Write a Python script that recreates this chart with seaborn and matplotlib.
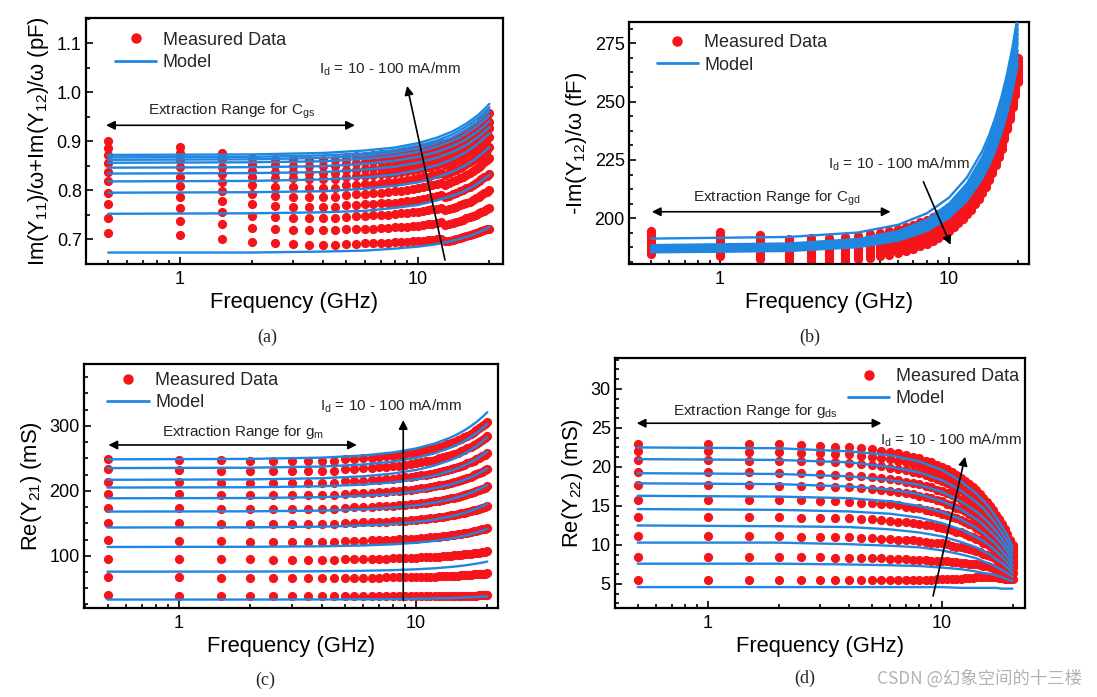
import numpy as np
import pandas as pd
import matplotlib
matplotlib.use("Agg")
import matplotlib.pyplot as plt
import seaborn as sns
from matplotlib.lines import Line2D
from matplotlib.ticker import FixedLocator, FixedFormatter, LogLocator, NullFormatter, MultipleLocator, FormatStrFormatter

# ---------------- data ----------------
freq_meas = [0.5, 1.0, 1.5, 2.0, 2.5, 3.0, 3.5, 4.0, 4.5, 5.0, 5.5, 6.0, 6.5, 7.0, 7.5, 8.0, 8.5, 9.0, 9.5, 10.0,
             10.5, 11.0, 11.5, 12.0, 12.5, 13.0, 13.5, 14.0, 14.5, 15.0, 15.5, 16.0, 16.5, 17.0, 17.5, 18.0, 18.5, 19.0, 19.5, 20.0]
freq_model = [0.5, 2, 4, 6, 8, 10, 12, 14, 15, 16, 17, 18, 19, 20]

# (a) Im(Y11)/w + Im(Y12)/w  (pF)
a_meas = [
    [.900,.888,.876,.865,.863,.862,.862,.862,.862,.867,.869,.870,.871,.873,.874,.876,.878,.880,.882,.884,.886,.889,.891,.894,.897,.894,.897,.901,.904,.909,.913,.917,.921,.927,.931,.936,.941,.947,.952,.957],
    [.886,.875,.863,.852,.851,.850,.850,.850,.850,.855,.856,.857,.859,.860,.861,.863,.865,.867,.869,.871,.873,.875,.877,.880,.883,.879,.882,.886,.889,.894,.897,.902,.906,.910,.914,.920,.924,.930,.934,.939],
    [.871,.861,.848,.840,.838,.837,.836,.836,.836,.841,.842,.843,.845,.846,.848,.849,.851,.853,.855,.857,.859,.861,.864,.866,.869,.866,.869,.873,.876,.880,.884,.888,.892,.897,.901,.906,.911,.916,.921,.926],
    [.856,.848,.834,.828,.825,.824,.823,.823,.823,.828,.829,.830,.831,.833,.834,.836,.837,.839,.841,.843,.845,.847,.850,.852,.855,.851,.854,.858,.861,.865,.869,.873,.877,.881,.885,.890,.894,.900,.904,.909],
    [.838,.827,.817,.810,.807,.806,.805,.805,.805,.810,.811,.812,.813,.814,.816,.817,.819,.820,.822,.824,.826,.828,.831,.833,.835,.832,.835,.839,.841,.846,.849,.853,.857,.861,.865,.870,.874,.879,.883,.888],
    [.818,.809,.799,.792,.789,.787,.786,.786,.786,.791,.792,.793,.794,.795,.796,.798,.799,.801,.802,.804,.806,.808,.810,.813,.815,.811,.814,.818,.820,.824,.827,.832,.835,.839,.843,.848,.852,.857,.861,.865],
    [.795,.786,.778,.771,.768,.766,.766,.765,.765,.769,.770,.771,.772,.773,.774,.775,.777,.778,.779,.781,.783,.784,.786,.788,.790,.786,.789,.792,.794,.798,.801,.804,.807,.811,.815,.819,.822,.827,.830,.834],
    [.771,.764,.756,.747,.745,.744,.743,.743,.743,.746,.747,.748,.749,.749,.750,.751,.753,.754,.755,.756,.757,.759,.761,.762,.764,.760,.762,.764,.766,.770,.772,.775,.777,.781,.784,.787,.790,.794,.797,.800],
    [.744,.737,.731,.723,.720,.719,.718,.718,.718,.721,.721,.722,.722,.723,.724,.725,.725,.726,.727,.728,.730,.731,.732,.733,.735,.730,.731,.734,.735,.738,.740,.743,.745,.748,.750,.753,.755,.758,.761,.763],
    [.713,.708,.700,.695,.692,.690,.689,.689,.689,.691,.691,.692,.692,.693,.693,.694,.694,.695,.696,.697,.697,.698,.699,.700,.701,.696,.697,.699,.701,.703,.704,.706,.708,.710,.712,.714,.716,.719,.720,.722],
]
a_model = [
    [.872,.873,.876,.881,.887,.896,.907,.920,.928,.936,.945,.954,.965,.976],
    [.867,.868,.871,.875,.882,.891,.901,.914,.922,.930,.939,.948,.958,.969],
    [.862,.863,.866,.870,.877,.885,.896,.908,.916,.924,.932,.941,.951,.962],
    [.856,.857,.859,.864,.870,.878,.889,.901,.908,.916,.924,.933,.943,.953],
    [.846,.847,.849,.854,.860,.868,.878,.890,.897,.904,.913,.921,.931,.941],
    [.834,.835,.837,.842,.848,.856,.866,.878,.885,.892,.901,.909,.919,.929],
    [.818,.819,.822,.826,.832,.841,.851,.863,.871,.878,.887,.896,.906,.916],
    [.795,.796,.798,.803,.809,.816,.826,.838,.845,.852,.860,.869,.878,.888],
    [.752,.753,.755,.758,.764,.770,.779,.789,.794,.801,.807,.815,.823,.831],
    [.673,.673,.675,.677,.681,.685,.690,.697,.701,.705,.709,.714,.719,.725],
]

# (b) -Im(Y12)/w  (fF)
b_meas = [
    [184.5,184.0,182.5,181.0,181.2,181.5,181.9,182.4,183.0,183.7,184.4,185.1,186.0,187.0,188.0,189.1,190.4,191.6,193.0,194.6,196.1,197.9,199.7,201.7,203.7,206.0,208.3,210.9,213.5,216.4,219.5,222.7,226.2,229.9,233.9,238.1,242.6,247.5,252.7,258.3],
    [185.6,185.1,183.6,182.1,182.3,182.6,183.0,183.5,184.1,184.8,185.5,186.2,187.1,188.1,189.1,190.2,191.5,192.7,194.1,195.7,197.2,199.0,200.8,202.8,204.8,207.1,209.4,212.0,214.6,217.5,220.6,223.8,227.3,231.0,235.0,239.2,243.7,248.6,253.8,259.4],
    [186.7,186.2,184.8,183.3,183.5,183.8,184.2,184.7,185.3,186.0,186.7,187.4,188.3,189.3,190.3,191.4,192.7,193.9,195.3,196.9,198.4,200.2,202.0,204.0,206.0,208.3,210.6,213.2,215.8,218.7,221.8,225.0,228.5,232.2,236.2,240.4,244.9,249.8,255.0,260.6],
    [187.8,187.3,185.9,184.4,184.6,184.9,185.3,185.8,186.4,187.1,187.8,188.5,189.4,190.4,191.4,192.5,193.8,195.0,196.4,198.0,199.5,201.3,203.1,205.1,207.1,209.4,211.7,214.3,216.9,219.8,222.9,226.1,229.6,233.3,237.3,241.5,246.0,250.9,256.1,261.7],
    [188.9,188.4,187.0,185.6,185.7,186.0,186.4,186.9,187.5,188.2,188.9,189.6,190.5,191.5,192.5,193.6,194.9,196.1,197.5,199.1,200.6,202.4,204.2,206.2,208.2,210.5,212.8,215.4,218.0,220.9,224.0,227.2,230.7,234.4,238.4,242.6,247.1,252.0,257.2,262.8],
    [190.0,189.5,188.2,186.7,186.8,187.1,187.5,188.0,188.6,189.3,190.0,190.7,191.6,192.6,193.6,194.7,196.0,197.2,198.6,200.2,201.7,203.5,205.3,207.3,209.3,211.6,213.9,216.5,219.1,222.0,225.1,228.3,231.8,235.5,239.5,243.7,248.2,253.1,258.3,263.9],
    [191.2,190.7,189.3,187.8,188.0,188.3,188.7,189.2,189.8,190.5,191.2,191.9,192.8,193.8,194.8,195.9,197.2,198.4,199.8,201.4,202.9,204.7,206.5,208.5,210.5,212.8,215.1,217.7,220.3,223.2,226.3,229.5,233.0,236.7,240.7,244.9,249.4,254.3,259.5,265.1],
    [192.3,191.8,190.4,189.0,189.1,189.4,189.8,190.3,190.9,191.6,192.3,193.0,193.9,194.9,195.9,197.0,198.3,199.5,200.9,202.5,204.0,205.8,207.6,209.6,211.6,213.9,216.2,218.8,221.4,224.3,227.4,230.6,234.1,237.8,241.8,246.0,250.5,255.4,260.6,266.2],
    [193.4,192.9,191.5,190.1,190.2,190.5,190.9,191.4,192.0,192.7,193.4,194.1,195.0,196.0,197.0,198.1,199.4,200.6,202.0,203.6,205.1,206.9,208.7,210.7,212.7,215.0,217.3,219.9,222.5,225.4,228.5,231.7,235.2,238.9,242.9,247.1,251.6,256.5,261.7,267.3],
    [194.5,194.0,192.7,191.3,191.4,191.7,192.1,192.6,193.2,193.9,194.6,195.3,196.2,197.2,198.2,199.3,200.6,201.8,203.2,204.8,206.3,208.1,209.9,211.9,213.9,216.2,218.5,221.1,223.7,226.6,229.7,232.9,236.4,240.1,244.1,248.3,252.8,257.7,262.9,268.5],
]
b_model = [
    [191.3,192.0,193.9,197.2,202.1,208.8,217.5,228.8,235.6,243.4,252.2,262.2,273.7,287.0],
    [188.5,189.2,191.1,194.5,199.4,206.2,214.9,226.3,233.2,241.0,249.9,260.0,271.6,285.0],
    [187.8,188.5,190.4,193.7,198.6,205.2,213.9,225.1,231.9,239.6,248.3,258.3,269.8,283.0],
    [187.2,187.9,189.7,193.0,197.8,204.4,212.9,224.0,230.6,238.2,246.9,256.7,268.0,281.0],
    [186.8,187.4,189.3,192.5,197.2,203.7,212.1,222.9,229.5,237.0,245.4,255.1,266.2,279.0],
    [186.4,187.0,188.8,192.0,196.6,203.0,211.2,221.9,228.3,235.7,244.0,253.5,264.4,277.0],
    [186.1,186.7,188.5,191.6,196.1,202.4,210.5,220.9,227.3,234.5,242.6,252.0,262.6,275.0],
    [185.8,186.4,188.1,191.1,195.5,201.6,209.4,219.6,225.7,232.7,240.6,249.7,260.0,272.0],
    [185.6,186.2,187.9,190.8,195.0,200.9,208.5,218.3,224.2,231.0,238.6,247.4,257.4,269.0],
    [185.4,186.0,187.6,190.4,194.5,200.1,207.5,217.0,222.7,229.2,236.7,245.1,254.8,266.0],
]

# (c) Re(Y21)  (mS)
c_meas = [
    [249.0,248.0,246.9,246.2,245.7,245.5,245.5,245.5,245.5,248.9,249.7,250.5,251.3,252.3,253.2,254.3,255.5,256.8,258.1,259.5,260.9,262.5,264.1,265.8,267.6,269.5,271.5,273.6,275.7,277.9,280.3,282.7,285.2,287.9,290.6,293.5,296.4,299.5,302.7,306.0],
    [233.0,232.1,231.2,230.6,230.2,230.0,230.0,230.0,230.0,233.1,233.7,234.4,235.2,236.0,236.9,237.9,239.0,240.0,241.2,242.5,243.8,245.2,246.6,248.1,249.8,251.4,253.2,255.1,256.9,258.9,261.1,263.2,265.5,267.9,270.3,272.8,275.5,278.2,281.0,284.0],
    [213.5,213.0,212.6,212.3,212.1,212.0,212.0,212.0,212.0,214.6,215.2,215.8,216.4,217.2,217.9,218.7,219.6,220.6,221.6,222.6,223.7,224.9,226.2,227.5,228.8,230.3,231.8,233.3,235.0,236.7,238.5,240.3,242.2,244.2,246.3,248.5,250.7,253.1,255.5,258.0],
    [195.0,194.5,194.1,193.8,193.6,193.5,193.5,193.5,193.5,195.8,196.3,196.8,197.4,198.0,198.7,199.4,200.2,201.0,201.9,202.9,203.8,204.9,206.0,207.1,208.3,209.6,210.9,212.3,213.7,215.2,216.8,218.4,220.1,221.9,223.7,225.6,227.6,229.7,231.8,234.0],
    [173.5,173.0,172.6,172.3,172.1,172.0,172.0,172.0,172.0,174.0,174.4,174.9,175.4,175.9,176.5,177.1,177.8,178.5,179.3,180.1,180.9,181.8,182.8,183.8,184.8,185.9,187.1,188.2,189.5,190.8,192.1,193.5,195.0,196.5,198.1,199.8,201.5,203.3,205.1,207.0],
    [150.0,149.7,149.4,149.2,149.1,149.0,149.0,149.0,149.0,150.6,150.9,151.3,151.7,152.1,152.6,153.1,153.6,154.2,154.8,155.5,156.1,156.9,157.6,158.4,159.2,160.1,161.0,162.0,163.0,164.0,165.1,166.2,167.4,168.6,169.9,171.2,172.6,174.0,175.5,177.0],
    [123.5,122.9,122.3,121.9,121.6,121.5,121.5,121.5,121.5,122.7,123.0,123.3,123.6,123.9,124.3,124.6,125.1,125.5,126.0,126.5,127.0,127.5,128.1,128.7,129.4,130.0,130.7,131.5,132.2,133.0,133.9,134.7,135.6,136.6,137.5,138.5,139.6,140.7,141.8,143.0],
    [95.5,95.0,94.6,94.3,94.1,94.0,94.0,94.0,94.0,94.7,94.9,95.1,95.2,95.5,95.7,95.9,96.2,96.4,96.7,97.0,97.3,97.7,98.0,98.4,98.8,99.2,99.6,100.0,100.5,101.0,101.5,102.0,102.5,103.1,103.7,104.3,104.9,105.6,106.3,107.0],
    [67.5,66.9,66.3,65.9,65.6,65.5,65.5,65.5,65.5,65.9,66.0,66.1,66.2,66.3,66.5,66.6,66.7,66.9,67.1,67.2,67.4,67.6,67.8,68.0,68.2,68.5,68.7,69.0,69.2,69.5,69.8,70.1,70.4,70.8,71.1,71.4,71.8,72.2,72.6,73.0],
    [39.0,38.6,38.1,37.8,37.6,37.5,37.5,37.5,37.5,37.6,37.6,37.6,37.6,37.7,37.7,37.7,37.7,37.8,37.8,37.8,37.9,37.9,38.0,38.0,38.0,38.1,38.1,38.2,38.2,38.3,38.4,38.4,38.5,38.6,38.6,38.7,38.8,38.8,38.9,39.0],
]
c_model = [
    [248.5,249.2,251.1,254.4,259.1,265.2,272.9,282.1,287.4,293.1,299.3,306.0,313.2,321.0],
    [235.0,235.6,237.4,240.6,244.9,250.7,257.8,266.6,271.4,276.8,282.7,288.9,295.7,303.0],
    [217.0,217.6,219.4,222.4,226.6,232.1,239.0,247.4,252.1,257.3,262.9,268.9,275.5,282.5],
    [205.0,205.5,207.0,209.6,213.1,217.8,223.6,230.8,234.7,239.1,243.9,249.0,254.6,260.5],
    [188.5,188.9,190.2,192.3,195.2,199.1,204.0,209.8,213.2,216.8,220.7,225.0,229.6,234.5],
    [168.0,168.4,169.5,171.4,174.0,177.5,181.8,187.0,190.0,193.2,196.7,200.5,204.6,209.0],
    [143.5,143.8,144.8,146.5,148.8,151.9,155.8,160.4,163.1,165.9,169.1,172.4,176.1,180.0],
    [113.5,113.8,114.5,115.8,117.6,120.0,122.9,126.5,128.5,130.7,133.1,135.7,138.5,141.5],
    [75.5,75.6,76.1,76.8,77.8,79.1,80.7,82.7,83.8,85.0,86.4,87.8,89.3,91.0],
    [32.5,32.5,32.7,32.9,33.2,33.7,34.2,34.8,35.2,35.6,36.0,36.5,37.0,37.5],
]

# (d) Re(Y22)  (mS)
d_meas = [
    [23.0,23.0,22.9,22.9,22.8,22.7,22.6,22.5,22.4,22.3,22.1,21.9,21.8,21.5,21.3,21.1,20.8,20.6,20.3,20.0,19.7,19.4,19.0,18.6,18.2,17.8,17.4,17.0,16.5,16.0,15.5,15.0,14.5,13.9,13.3,12.7,12.1,11.4,10.7,10.0],
    [22.0,22.0,21.9,21.9,21.8,21.8,21.7,21.6,21.4,21.3,21.1,21.0,20.8,20.6,20.4,20.2,19.9,19.7,19.4,19.1,18.8,18.5,18.2,17.8,17.5,17.1,16.7,16.3,15.8,15.4,14.9,14.4,13.9,13.3,12.8,12.2,11.6,10.9,10.3,9.6],
    [20.9,20.9,20.8,20.8,20.7,20.7,20.6,20.5,20.4,20.2,20.1,19.9,19.8,19.6,19.4,19.2,19.0,18.7,18.5,18.2,17.9,17.6,17.3,17.0,16.6,16.3,15.9,15.5,15.1,14.6,14.2,13.7,13.2,12.7,12.2,11.6,11.1,10.5,9.8,9.2],
    [19.3,19.3,19.3,19.2,19.2,19.1,19.0,18.9,18.8,18.7,18.6,18.4,18.3,18.1,18.0,17.8,17.6,17.4,17.1,16.9,16.6,16.4,16.1,15.8,15.5,15.1,14.8,14.4,14.1,13.7,13.3,12.8,12.4,11.9,11.5,11.0,10.5,9.9,9.4,8.8],
    [17.7,17.7,17.7,17.6,17.6,17.5,17.4,17.4,17.3,17.2,17.1,16.9,16.8,16.7,16.5,16.3,16.2,16.0,15.8,15.6,15.3,15.1,14.8,14.6,14.3,14.0,13.7,13.4,13.1,12.7,12.4,12.0,11.6,11.2,10.8,10.3,9.9,9.4,8.9,8.4],
    [15.8,15.8,15.8,15.7,15.7,15.6,15.6,15.5,15.4,15.4,15.3,15.2,15.1,14.9,14.8,14.7,14.5,14.4,14.2,14.0,13.8,13.6,13.4,13.2,13.0,12.7,12.5,12.2,11.9,11.6,11.3,11.0,10.7,10.3,10.0,9.6,9.2,8.8,8.4,8.0],
    [13.6,13.6,13.6,13.6,13.5,13.5,13.4,13.4,13.3,13.3,13.2,13.1,13.0,12.9,12.8,12.7,12.6,12.5,12.3,12.2,12.0,11.9,11.7,11.6,11.4,11.2,11.0,10.8,10.6,10.3,10.1,9.9,9.6,9.3,9.1,8.8,8.5,8.2,7.8,7.5],
    [11.1,11.1,11.1,11.1,11.0,11.0,11.0,11.0,10.9,10.9,10.8,10.8,10.7,10.6,10.6,10.5,10.4,10.3,10.3,10.2,10.1,9.9,9.8,9.7,9.6,9.5,9.3,9.2,9.1,8.9,8.7,8.6,8.4,8.2,8.0,7.9,7.7,7.4,7.2,7.0],
    [8.4,8.4,8.4,8.4,8.4,8.4,8.3,8.3,8.3,8.3,8.3,8.2,8.2,8.2,8.1,8.1,8.1,8.0,8.0,7.9,7.9,7.8,7.8,7.7,7.7,7.6,7.5,7.5,7.4,7.3,7.3,7.2,7.1,7.0,6.9,6.8,6.7,6.6,6.5,6.4],
    [5.5,5.5,5.5,5.5,5.5,5.5,5.5,5.5,5.5,5.5,5.5,5.5,5.5,5.5,5.5,5.5,5.5,5.5,5.6,5.6,5.6,5.7,5.7,5.7,5.8,5.8,5.8,5.9,5.9,5.9,5.9,5.9,5.9,5.9,5.8,5.8,5.7,5.7,5.6,5.6],
]
d_model = [
    [22.5,22.4,22.0,21.5,20.7,19.6,18.2,16.6,15.7,14.7,13.6,12.4,11.2,9.8],
    [21.0,20.9,20.6,20.0,19.3,18.3,17.0,15.5,14.7,13.7,12.7,11.6,10.5,9.2],
    [19.2,19.1,18.8,18.3,17.7,16.8,15.6,14.3,13.5,12.7,11.8,10.8,9.7,8.6],
    [17.9,17.8,17.5,17.1,16.5,15.6,14.6,13.3,12.6,11.8,11.0,10.1,9.1,8.0],
    [16.3,16.2,16.0,15.6,15.0,14.2,13.3,12.2,11.5,10.8,10.1,9.2,8.4,7.4],
    [14.6,14.5,14.3,14.0,13.5,12.8,12.0,11.0,10.5,9.9,9.2,8.5,7.7,6.9],
    [12.5,12.4,12.3,12.0,11.6,11.1,10.4,9.7,9.2,8.8,8.2,7.7,7.1,6.4],
    [10.3,10.3,10.1,9.9,9.7,9.3,8.8,8.3,7.9,7.6,7.2,6.8,6.4,5.9],
    [7.6,7.6,7.5,7.4,7.3,7.1,6.9,6.6,6.4,6.3,6.1,5.9,5.6,5.4],
    [4.6,4.6,4.6,4.6,4.6,4.6,4.5,4.5,4.5,4.5,4.5,4.4,4.4,4.4],
]

ylabels = [r"Im(Y$_{11}$)/ω+Im(Y$_{12}$)/ω (pF)", r"-Im(Y$_{12}$)/ω (fF)",
           r"Re(Y$_{21}$) (mS)", r"Re(Y$_{22}$) (mS)"]
range_labels = [r"Extraction Range for C$_{gs}$", r"Extraction Range for C$_{gd}$",
                r"Extraction Range for g$_{m}$", r"Extraction Range for g$_{ds}$"]
id_label = r"I$_{d}$ = 10 - 100 mA/mm"
captions = ["(a)", "(b)", "(c)", "(d)"]
legend_labels = ["Measured Data", "Model"]

# ---------------- style ----------------
sns.set_theme(style="ticks")
plt.rcParams["font.family"] = ["Liberation Sans", "DejaVu Sans"]
plt.rcParams["mathtext.fontset"] = "custom"
plt.rcParams["mathtext.rm"] = "Liberation Sans"
plt.rcParams["mathtext.it"] = "Liberation Sans:italic"
plt.rcParams["mathtext.default"] = "regular"
plt.rcParams["axes.linewidth"] = 1.6
plt.rcParams["axes.edgecolor"] = "black"

RED = "#F5141A"
BLUE = "#1F87E0"

def to_long(freqs, rows):
    recs = []
    for k, row in enumerate(rows):
        for f, v in zip(freqs, row):
            recs.append((k, f, v))
    return pd.DataFrame(recs, columns=["curve", "f", "v"])

panels = [
    dict(meas=a_meas, model=a_model, rect=[0.0784, 0.6212, 0.3801, 0.3529], xlim=(0.403, 22.8), ylim=(0.6496, 1.151),
         major=0.1, minor=0.05, fmt="%.1f",
         leg=(0.069, 0.945), rng=((0.048, 0.645), 0.564), rngtxt=(0.35, 0.619),
         idtxt=(0.729, 0.793), idarrow=((0.861, 0.016), (0.770, 0.724)), cap=(0.244, 0.5165)),
    dict(meas=b_meas, model=b_model, rect=[0.5734, 0.6212, 0.3646, 0.3472], xlim=(0.40, 22.4), ylim=(180.4, 284.1),
         major=25, minor=6.25, fmt="%d",
         leg=(0.069, 0.95), rng=((0.057, 0.654), 0.216), rngtxt=(0.369, 0.271),
         idtxt=(0.675, 0.412), idarrow=((0.736, 0.340), (0.804, 0.079)), cap=(0.738, 0.5165)),
    dict(meas=c_meas, model=c_model, rect=[0.0766, 0.1277, 0.3774, 0.3501], xlim=(0.398, 22.2), ylim=(19.5, 395.4),
         major=100, minor=25, fmt="%d",
         leg=(0.056, 0.967), rng=((0.059, 0.659), 0.668), rngtxt=(0.385, 0.723),
         idtxt=(0.741, 0.828), idarrow=((0.771, 0.030), (0.771, 0.770)), cap=(0.2416, 0.0244)),
    dict(meas=d_meas, model=d_model, rect=[0.5606, 0.1277, 0.3737, 0.3587], xlim=(0.40, 22.6), ylim=(1.92, 33.97),
         major=5, minor=1.25, fmt="%d",
         leg=(0.568, 0.96), rng=((0.053, 0.650), 0.739), rngtxt=(0.343, 0.789),
         idtxt=(0.819, 0.672), idarrow=((0.776, 0.048), (0.854, 0.605)), cap=(0.734, 0.027)),
]

fig = plt.figure(figsize=(10.97, 6.97), dpi=100)

for i, p in enumerate(panels):
    ax = fig.add_axes(p["rect"])
    dm = to_long(freq_meas, p["meas"])
    sns.scatterplot(data=dm, x="f", y="v", color=RED, s=44, linewidth=0, ax=ax, zorder=2, legend=False)
    dl = to_long(freq_model, p["model"])
    sns.lineplot(data=dl, x="f", y="v", units="curve", estimator=None, sort=False,
                 color=BLUE, lw=1.7, ax=ax, zorder=3, legend=False)
    ax.set_xscale("log")
    ax.set_xlim(*p["xlim"])
    ax.set_ylim(*p["ylim"])
    ax.xaxis.set_major_locator(FixedLocator([1, 10]))
    ax.xaxis.set_major_formatter(FixedFormatter(["1", "10"]))
    ax.xaxis.set_minor_locator(LogLocator(base=10, subs=(2, 3, 4, 5, 6, 7, 8, 9)))
    ax.xaxis.set_minor_formatter(NullFormatter())
    ax.yaxis.set_major_locator(MultipleLocator(p["major"]))
    ax.yaxis.set_minor_locator(MultipleLocator(p["minor"]))
    ax.yaxis.set_major_formatter(FormatStrFormatter(p["fmt"]))
    ax.tick_params(which="both", direction="in", top=False, right=False, color="black", width=1.2)
    ax.tick_params(which="major", length=5, labelsize=13, colors="black")
    ax.tick_params(which="minor", length=3)
    ax.tick_params(axis="x", which="major", pad=5)
    ax.tick_params(axis="y", which="major", pad=3)
    ax.set_xlabel("Frequency (GHz)", fontsize=15.8, labelpad=3, color="black")
    ax.set_ylabel(ylabels[i], fontsize=15.8, labelpad=4, color="black")
    for s in ax.spines.values():
        s.set_visible(True)
        s.set_linewidth(1.6)
        s.set_color("black")

    handles = [Line2D([], [], marker="o", ls="none", color=RED, markersize=6.5),
               Line2D([], [], color=BLUE, lw=2)]
    ax.legend(handles, legend_labels, loc="upper left", bbox_to_anchor=p["leg"], frameon=False,
              fontsize=13, handlelength=2.3, handletextpad=0.35, labelspacing=0.3,
              borderpad=0, borderaxespad=0)

    (x0, x1), yr = p["rng"]
    ax.annotate("", xy=(x1, yr), xytext=(x0, yr), xycoords="axes fraction",
                arrowprops=dict(arrowstyle="<|-|>", color="black", lw=1.2, mutation_scale=13, shrinkA=0, shrinkB=0))
    ax.text(*p["rngtxt"], range_labels[i], transform=ax.transAxes, ha="center", va="center", fontsize=11)
    ax.text(*p["idtxt"], id_label, transform=ax.transAxes, ha="center", va="center", fontsize=11)
    tail, head = p["idarrow"]
    ax.annotate("", xy=head, xytext=tail, xycoords="axes fraction",
                arrowprops=dict(arrowstyle="-|>", color="black", lw=1.2, mutation_scale=13, shrinkA=0, shrinkB=0))

    fig.text(*p["cap"], captions[i], ha="center", va="center", fontsize=13, family="Liberation Serif")

fig.text(0.986, 0.027, "CSDN @幻象空间的十三楼", ha="right", va="center", fontsize=12.5, color="#b2b2b2",
         family=["Noto Sans CJK SC", "DejaVu Sans"])

fig.savefig("out.png", dpi=100)
